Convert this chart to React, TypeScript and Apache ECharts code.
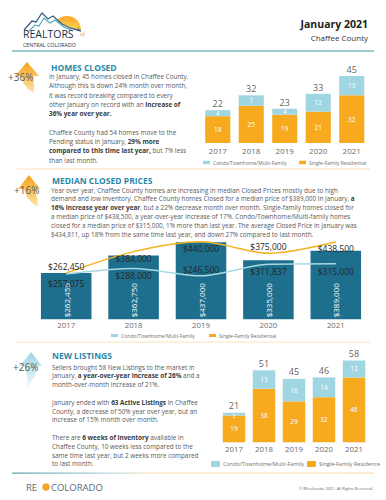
import React, { useEffect, useRef } from 'react';
import * as echarts from 'echarts';

// ---------- data ----------
const years = ['2017', '2018', '2019', '2020', '2021'];

const closedSingleFamily = [18, 25, 19, 21, 32];
const closedCondo = [4, 7, 4, 12, 13];
const closedTotals = [22, 32, 23, 33, 45];

const medianAllHomes = [262450, 362750, 437000, 335000, 389000];
const medianSingleFamily = [262450, 384000, 440000, 375000, 438500];
const medianCondo = [257075, 288000, 246500, 311837, 315000];

const newSingleFamily = [19, 38, 29, 32, 46];
const newCondo = [2, 13, 16, 14, 12];
const newTotals = [21, 51, 45, 46, 58];

const nameCondo = 'Condo/Townhome/Multi-Family';
const nameSingle = 'Single-Family Residential';
const nameSingle3 = 'Single-Family Residence';

const para1 = [
  'In January, 45 homes closed in Chaffee County.',
  'Although this is down 24% month over month,',
  'it was record breaking compared to every',
  'other January on record with an **increase of**',
  '**36% year over year.**',
  '',
  'Chaffee County had 54 homes move to the',
  'Pending status in January, **29% more**',
  '**compared to this time last year,** but 7% less',
  'than last month.',
];

const para2 = [
  'Year over year, Chaffee County homes are increasing in median Closed Prices mostly due to high',
  'demand and low inventory. Chaffee County homes Closed for a median price of $389,000 in January, **a**',
  '**16% increase year over year**, but a 22% decrease month over month. Single-family homes closed for',
  'a median price of $438,500, a year-over-year increase of 17%. Condo/Townhome/Multi-family homes',
  'closed for a median price of $315,000, 1% more than last year. The average Closed Price in January was',
  '$434,811, up 18% from the same time last year, and down 27% compared to last month.',
];

const para3 = [
  'Sellers brought 58 New Listings to the market in',
  'January, **a year-over-year increase of 26%** and a',
  'month-over-month increase of 21%.',
  '',
  'January ended with **63 Active Listings** in Chaffee',
  'County, a decrease of 50% year over year, but an',
  'increase of 15% month over month.',
  '',
  'There are **6 weeks of inventory** available in',
  'Chaffee County, 10 weeks less compared to the',
  'same time last year, but 2 weeks more compared',
  'to last month.',
];

// ---------- style ----------
const FONT = '"Open Sans", "Noto Sans", sans-serif';
const TEAL = '#2b88a8';
const ORANGE = '#f7aa1e';
const LIGHTBLUE = '#a0d5e2';
const DARKTEAL = '#1e6f8e';
const GOLD = '#f2b320';
const TEXT = '#595959';
const PARA_FS = 6.4;

const singleLabelPos = ['top', 'bottom', 'bottom', 'top', 'bottom'];
const condoLabelPos = ['bottom', 'bottom', 'top', 'bottom', 'bottom'];
const condoLabelDist = [5, 2, 2, 3, 3];

const money = (v: number) => '$' + v.toLocaleString('en-US');

function richLine(line: string) {
  return line
    .split('**')
    .map((p, i) => (p ? `{${i % 2 ? 'b' : 'n'}|${p}}` : ''))
    .join('');
}

function text(x: number, y: number, t: string, fontSize: number, fill: string, extra: any = {}) {
  return {
    type: 'text',
    x,
    y,
    silent: true,
    z: 10,
    style: {
      text: t,
      fontSize,
      fill,
      fontFamily: extra.fontFamily || FONT,
      fontWeight: extra.fontWeight || 'normal',
      fontStyle: extra.fontStyle || 'normal',
      align: extra.align || 'left',
      textAlign: extra.align || 'left',
      verticalAlign: 'middle',
      textVerticalAlign: 'middle',
    },
  };
}

function paragraph(lines: string[], x: number, y0: number, lh: number) {
  const out: any[] = [];
  lines.forEach((ln, i) => {
    if (!ln) return;
    out.push({
      type: 'text',
      x,
      y: y0 + i * lh,
      silent: true,
      z: 10,
      style: {
        text: richLine(ln),
        verticalAlign: 'middle',
        textVerticalAlign: 'middle',
        rich: {
          n: { fontSize: PARA_FS, fill: TEXT, fontFamily: FONT },
          b: { fontSize: PARA_FS, fill: '#3a3a3a', fontFamily: FONT, fontWeight: 'bold' },
        },
      },
    });
  });
  return out;
}

function arrow(points: number[][], c1: string, c2: string) {
  return {
    type: 'polygon',
    silent: true,
    z: 5,
    shape: { points },
    style: {
      fill: new echarts.graphic.LinearGradient(0, 0, 0, 1, [
        { offset: 0, color: c1 },
        { offset: 1, color: c2 },
      ]),
    },
  };
}

function legendItem(name: string, left: number, top: number, w: number, h: number, fs: number) {
  return {
    data: [name],
    left,
    top,
    padding: 0,
    icon: 'rect',
    itemWidth: w,
    itemHeight: h,
    selectedMode: false,
    textStyle: { fontSize: fs, color: '#707070', fontFamily: FONT, padding: [0, 0, 0, -2] },
  };
}

export default function App() {
  const ref = useRef<HTMLDivElement>(null);

  useEffect(() => {
    if (!ref.current) return;
    const chart = echarts.init(ref.current, null, { renderer: 'svg' });

    const axisCommon = (gridIndex: number, fs: number, margin: number) => ({
      type: 'category',
      gridIndex,
      data: years,
      axisLine: { show: false },
      axisTick: { show: false },
      axisLabel: { fontSize: fs, color: '#6a6a6a', margin, fontFamily: FONT },
    });

    const graphics: any[] = [
      // header logo
      {
        type: 'sector',
        silent: true,
        shape: { cx: 67, cy: 30, r: 14, startAngle: Math.PI, endAngle: Math.PI * 2 },
        style: {
          fill: new echarts.graphic.LinearGradient(0, 0, 0, 1, [
            { offset: 0, color: '#f9a825' },
            { offset: 1, color: '#fcd25a' },
          ]),
        },
      },
      {
        type: 'polygon',
        silent: true,
        shape: {
          points: [[24, 30], [32, 21], [36, 22], [42, 13], [48, 19], [53, 16], [62, 24], [70, 28], [81, 31], [81, 33], [24, 33]],
        },
        style: { fill: '#ffffff' },
      },
      {
        type: 'polyline',
        silent: true,
        shape: { points: [[24, 30], [32, 21], [36, 22], [42, 13], [48, 19], [53, 16], [62, 24], [70, 28], [81, 31]] },
        style: { stroke: '#3b5f86', lineWidth: 1.3, fill: null },
      },
      {
        type: 'polyline',
        silent: true,
        shape: { points: [[29, 31], [35, 25], [39, 26], [44, 18], [50, 23], [55, 20], [64, 27], [73, 31]] },
        style: { stroke: '#4fa7b8', lineWidth: 1.1, fill: null },
      },
      text(23, 33.5, 'REALTORS', 10.5, '#1f2f4a'),
      text(77, 29.5, '®', 4, '#1f2f4a'),
      text(80, 34, 'of', 6, '#e39b2f', { fontFamily: 'serif', fontStyle: 'italic' }),
      text(23, 45, 'CENTRAL COLORADO', 5.3, '#1f2f4a'),
      text(368, 24, 'January 2021', 10.5, '#222222', { align: 'right', fontWeight: 'bold' }),
      text(368, 37, 'Chaffee County', 8, '#333333', { align: 'right' }),
      {
        type: 'line',
        silent: true,
        shape: { x1: 12, y1: 51, x2: 374, y2: 51 },
        style: { stroke: '#3d9ca6', lineWidth: 1.2 },
      },
      // separators
      {
        type: 'line',
        silent: true,
        shape: { x1: 17, y1: 169, x2: 370, y2: 169 },
        style: { stroke: '#fbeecf', lineWidth: 1.5 },
      },
      {
        type: 'line',
        silent: true,
        shape: { x1: 17, y1: 342, x2: 370, y2: 342 },
        style: { stroke: '#fbeecf', lineWidth: 1.5 },
      },
      {
        type: 'rect',
        silent: true,
        shape: { x: 12, y: 472.5, width: 362, height: 1.2 },
        style: {
          fill: new echarts.graphic.LinearGradient(0, 0, 1, 0, [
            { offset: 0, color: '#5aa3b0' },
            { offset: 0.3, color: '#c5dde0' },
            { offset: 0.38, color: '#fbe3c0' },
            { offset: 1, color: '#fbe0b8' },
          ]),
        },
      },
      // section 1
      arrow([[27, 62], [39, 76], [33, 76], [34, 84], [34, 93], [28, 89], [24, 84], [21, 76], [15, 76]], '#f6a31c', '#fde4a6'),
      text(8, 77, '+36%', 10, TEXT),
      text(51, 67, 'HOMES CLOSED', 8.5, TEAL, { fontWeight: 'bold' }),
      ...paragraph(para1, 49, 76.5, 9.3),
      // section 2
      arrow([[29, 175], [40, 189], [35, 189], [37, 198], [38, 207], [32, 203], [27, 197], [24, 189], [18, 189]], '#f6a31c', '#fde4a6'),
      text(14, 190, '+16%', 10, TEXT),
      text(52, 180, 'MEDIAN CLOSED PRICES', 8.5, TEAL, { fontWeight: 'bold' }),
      ...paragraph(para2, 51, 190, 8.9),
      // section 3
      arrow([[31, 352], [42, 366], [37, 366], [35, 376], [28, 387], [27, 379], [26, 372], [25, 366], [20, 366]], '#9ed6e3', '#eef8fa'),
      text(13, 367, '+26%', 10, TEXT),
      text(52, 355, 'NEW LISTINGS', 8.5, TEAL, { fontWeight: 'bold' }),
      ...paragraph(para3, 52, 367, 8.8),
      // footer
      text(26, 487, 'RE', 9.5, '#5b6b75'),
      { type: 'circle', silent: true, shape: { cx: 46, cy: 487, r: 3.8 }, style: { fill: '#f5a623' } },
      text(51, 487, 'COLORADO', 9.5, '#5b6b75'),
      text(373, 488, '© REcolorado 2021. All Rights Reserved.', 4, '#666666', { align: 'right' }),
    ];

    const option: any = {
      animation: false,
      backgroundColor: '#ffffff',
      textStyle: { fontFamily: FONT },
      grid: [
        { left: 201, top: 68.5, width: 167.5, height: 74.5 },
        { left: 32.5, top: 231.2, width: 337, height: 88.1 },
        { left: 219, top: 357.7, width: 150, height: 84.6 },
      ],
      xAxis: [axisCommon(0, 8, 3), axisCommon(1, 7.8, 2), axisCommon(2, 7.8, 3)],
      yAxis: [
        { type: 'value', gridIndex: 0, min: 0, max: 50, show: false },
        { type: 'value', gridIndex: 1, min: 0, max: 500000, show: false },
        { type: 'value', gridIndex: 2, min: 0, max: 60, show: false },
      ],
      legend: [
        legendItem(nameCondo, 203, 160, 7, 3.5, 5),
        legendItem(nameSingle, 299, 160, 7, 3.5, 5),
        legendItem(nameCondo, 111, 333, 7, 3, 5),
        legendItem(nameSingle, 209, 333, 7, 3, 5),
        legendItem(nameCondo, 211, 461, 9, 6, 5.5),
        legendItem(nameSingle3, 307, 461, 9, 6, 5.5),
      ],
      series: [
        // chart 1
        {
          name: nameSingle,
          type: 'bar',
          xAxisIndex: 0,
          yAxisIndex: 0,
          stack: 'closed',
          barWidth: '75%',
          data: closedSingleFamily,
          itemStyle: { color: ORANGE },
          label: { show: true, position: 'inside', color: '#fff', fontSize: 6.5 },
        },
        {
          name: nameCondo,
          type: 'bar',
          xAxisIndex: 0,
          yAxisIndex: 0,
          stack: 'closed',
          barWidth: '75%',
          data: closedCondo,
          itemStyle: { color: LIGHTBLUE },
          label: { show: true, position: 'inside', color: '#fff', fontSize: 6.5 },
        },
        {
          name: 'closedTotal',
          type: 'scatter',
          xAxisIndex: 0,
          yAxisIndex: 0,
          data: closedTotals,
          symbolSize: 0,
          itemStyle: { color: 'transparent' },
          label: { show: true, position: 'top', distance: 2, color: '#333', fontSize: 9 },
          z: 5,
        },
        // chart 2
        {
          name: 'Median',
          type: 'bar',
          xAxisIndex: 1,
          yAxisIndex: 1,
          barWidth: '75%',
          data: medianAllHomes,
          itemStyle: { color: DARKTEAL },
          label: {
            show: true,
            position: 'insideBottom',
            rotate: 90,
            align: 'left',
            verticalAlign: 'middle',
            distance: 2,
            color: '#fff',
            fontSize: 8,
            formatter: (p: any) => money(p.value),
          },
          z: 1,
        },
        {
          name: nameSingle,
          type: 'line',
          xAxisIndex: 1,
          yAxisIndex: 1,
          smooth: 0.3,
          data: medianSingleFamily.map((v, i) => ({ value: v, label: { position: singleLabelPos[i] } })),
          symbol: 'circle',
          symbolSize: 0,
          lineStyle: { color: GOLD, width: 1.5 },
          itemStyle: { color: GOLD },
          label: { show: true, distance: 2, color: '#262626', fontSize: 8.5, formatter: (p: any) => money(p.value) },
          z: 3,
        },
        {
          name: nameCondo,
          type: 'line',
          xAxisIndex: 1,
          yAxisIndex: 1,
          smooth: 0.3,
          data: medianCondo.map((v, i) => ({
            value: v,
            label: { position: condoLabelPos[i], distance: condoLabelDist[i] },
          })),
          symbol: 'circle',
          symbolSize: 0,
          lineStyle: { color: '#a9d8e3', width: 1.5 },
          itemStyle: { color: '#a9d8e3' },
          label: { show: true, color: '#262626', fontSize: 8.5, formatter: (p: any) => money(p.value) },
          z: 3,
        },
        // chart 3
        {
          name: nameSingle3,
          type: 'bar',
          xAxisIndex: 2,
          yAxisIndex: 2,
          stack: 'new',
          barWidth: '75%',
          data: newSingleFamily,
          itemStyle: { color: ORANGE },
          label: { show: true, position: 'inside', color: '#fff', fontSize: 6.5 },
        },
        {
          name: nameCondo,
          type: 'bar',
          xAxisIndex: 2,
          yAxisIndex: 2,
          stack: 'new',
          barWidth: '75%',
          data: newCondo.map((v, i) =>
            i === 0 ? { value: v, label: { fontSize: 5.5, offset: [0, 1.5] } } : v
          ),
          itemStyle: { color: LIGHTBLUE },
          label: { show: true, position: 'inside', color: '#fff', fontSize: 6.5 },
        },
        {
          name: 'newTotal',
          type: 'scatter',
          xAxisIndex: 2,
          yAxisIndex: 2,
          data: newTotals,
          symbolSize: 0,
          itemStyle: { color: 'transparent' },
          label: { show: true, position: 'top', distance: 2.5, color: '#333', fontSize: 9 },
          z: 5,
        },
      ],
      graphic: { elements: graphics },
    };

    chart.setOption(option);
    return () => chart.dispose();
  }, []);

  return (
    <div
      ref={ref}
      style={{ position: 'absolute', left: 0, top: 0, width: 386, height: 500, background: '#fff' }}
    />
  );
}
